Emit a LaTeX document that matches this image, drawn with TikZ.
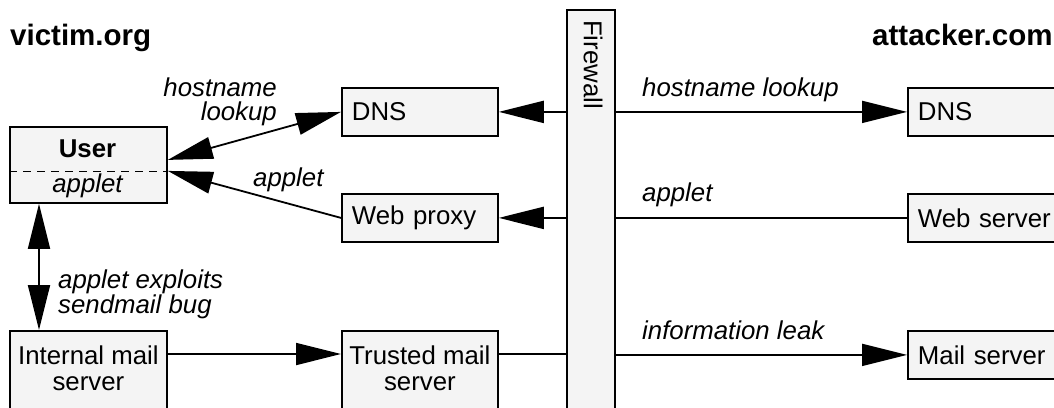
\documentclass[tikz,border=0pt]{standalone}
\usepackage{fontspec}
\setmainfont{Liberation Sans}
\usetikzlibrary{arrows.meta,calc}
\definecolor{boxfill}{RGB}{244,244,244}
\begin{document}
\begin{tikzpicture}[x=1pt,y=-1pt,
  every node/.style={font=\fontsize{25.8pt}{26pt}\selectfont, inner sep=0pt},
  box/.style={draw, line width=1.8pt, fill=boxfill, anchor=north west},
  lbl/.style={font=\fontsize{25.8pt}{26pt}\selectfont\itshape},
  head/.style={font=\fontsize{29.5pt}{32pt}\selectfont\bfseries, anchor=base west},
  arr/.style={line width=1.8pt, -{Triangle[length=45pt,width=22pt]}},
  darr/.style={line width=1.8pt, {Triangle[length=45pt,width=22pt]}-{Triangle[length=45pt,width=22pt]}},
  plain/.style={line width=1.8pt}]
\useasboundingbox (0,0) rectangle (1054,407);

% headings
\node[head] (vic) at (10,45) {victim.org};
\node[head] (att) at (872,45) {attacker.com};

% victim side boxes
\node[box, minimum width=157pt, minimum height=76pt] (user) at (9,126) {};
\node[font=\fontsize{25.8pt}{26pt}\selectfont\bfseries, anchor=base] (usert) at (87.5,157) {User};
\node[lbl, anchor=base] (usera) at (87.5,192) {applet};
\draw[line width=1pt, dash pattern=on 8pt off 6pt] ([yshift=-45pt]user.north west) -- ([yshift=-45pt]user.north east);

\node[box, minimum width=156pt, minimum height=48pt, text width=136pt, align=left] (dns1) at (341,87) {DNS};
\node[box, minimum width=156pt, minimum height=48pt, text width=136pt, align=left] (proxy) at (341,193) {Web proxy};
\node[box, minimum width=157pt, minimum height=82pt, align=center, text depth=8pt] (imail) at (9,330) {Internal mail\\server};
\node[box, minimum width=156pt, minimum height=82pt, align=center, text depth=8pt] (tmail) at (341,330) {Trusted mail\\server};

% firewall
\node[box, minimum width=48pt, minimum height=430pt] (fw) at (566,9) {};
\node[rotate=-90, anchor=west] (fwt) at (593,20) {Firewall};

% attacker side boxes
\node[box, minimum width=170pt, minimum height=48pt, text width=150pt, align=left] (dns2) at (907,87) {DNS};
\node[box, minimum width=170pt, minimum height=48pt, text width=150pt, align=left] (web) at (907,193) {Web server};
\node[box, minimum width=170pt, minimum height=48pt, text width=150pt, align=left] (mail) at (907,330) {Mail server};

% connectors
\coordinate (tm) at ([yshift=-24pt]tmail.north east);
\coordinate (im) at ([yshift=-24pt]imail.north east);
\draw[arr] (dns1.east -| fw.west) -- (dns1.east);
\draw[arr] (proxy.east -| fw.west) -- (proxy.east);
\draw[plain] (tm) -- (tm -| fw.west);
\draw[arr] (dns2.west -| fw.east) -- (dns2.west);
\draw[plain] (web.west -| fw.east) -- (web.west);
\draw[arr] (mail.west -| fw.east) -- (mail.west);
\draw[arr] (im) -- (im -| tmail.west);
\draw[darr] ([yshift=5pt]user.east) -- (dns1.west);
\draw[arr] (proxy.west) -- ([yshift=-6pt]user.east);
\draw[darr] ([xshift=30pt]user.south west) -- ([xshift=30pt]imail.north west);

% labels
\node[lbl, anchor=base east] (l1a) at (277,96) {hostname};
\node[lbl, anchor=base east] (l1b) at (277,120) {lookup};
\node[lbl, anchor=base west] (l2) at (253,186) {applet};
\node[lbl, anchor=base west] (l3a) at (58,288) {applet exploits};
\node[lbl, anchor=base west] (l3b) at (58,313) {sendmail bug};
\node[lbl, anchor=base west] (r1) at (642,96) {hostname lookup};
\node[lbl, anchor=base west] (r2) at (642,201) {applet};
\node[lbl, anchor=base west] (r3) at (642,339) {information leak};
\end{tikzpicture}
\end{document}
